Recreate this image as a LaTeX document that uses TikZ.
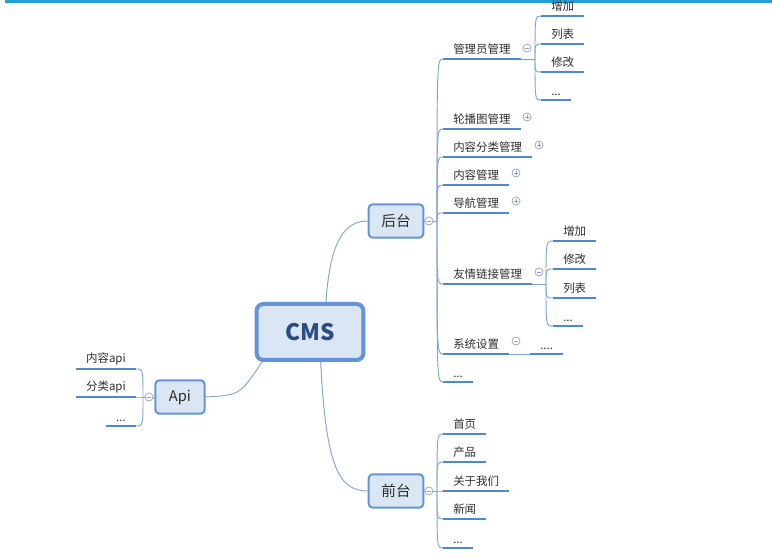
\documentclass[tikz,border=0pt]{standalone}
\usepackage{fontspec}
\setmainfont{Noto Sans CJK SC}
\usetikzlibrary{positioning}
\definecolor{topbar}{RGB}{35,158,215}
\definecolor{topicfill}{RGB}{219,230,244}
\definecolor{topicline}{RGB}{98,148,215}
\definecolor{cmstext}{RGB}{42,76,130}
\definecolor{ulblue}{RGB}{78,136,212}
\definecolor{brblue}{RGB}{128,164,214}
\definecolor{foldgray}{RGB}{140,160,190}
\definecolor{leaftext}{RGB}{45,45,45}

\begin{document}
\begin{tikzpicture}[x=0.75pt,y=-0.75pt,
  topic/.style={draw=topicline,line width=1.5pt,fill=topicfill,rounded corners=3pt,
    minimum width=41pt,minimum height=25pt,inner sep=0pt,
    font=\fontsize{11}{13}\selectfont,text=leaftext},
  central/.style={draw=topicline,line width=3pt,fill=topicfill,rounded corners=5pt,
    minimum width=80pt,minimum height=42pt,inner sep=0pt,
    font=\bfseries\fontsize{17}{20}\selectfont,text=cmstext},
  leaf/.style={inner xsep=7.5pt,inner ysep=3pt,anchor=south west,
    font=\fontsize{8.6}{10}\selectfont,text=leaftext},
  rleaf/.style={leaf,anchor=south east},
  uline/.style={draw=ulblue,line width=2.2pt},
  branch/.style={draw=brblue,line width=0.7pt},
  fold/.style={circle,draw=foldgray,fill=white,line width=0.5pt,minimum size=6pt,inner sep=0pt},
  minus/.style={fold,path picture={\draw[foldgray,line width=0.5pt]
    ([xshift=1.3pt]path picture bounding box.west) -- ([xshift=-1.3pt]path picture bounding box.east);}},
  plus/.style={fold,path picture={\draw[foldgray,line width=0.5pt]
    ([xshift=1.3pt]path picture bounding box.west) -- ([xshift=-1.3pt]path picture bounding box.east)
    ([yshift=-1.3pt]path picture bounding box.north) -- ([yshift=1.3pt]path picture bounding box.south);}}]
\useasboundingbox (0,0) rectangle (772,559);
\fill[topbar] (5,0) rectangle (772,3);

% main topics
\node[central] (cms) at (310,332) {CMS};
\node[topic] (houtai) at (396,221) {后台};
\node[topic] (qiantai) at (396,491) {前台};
\node[topic,minimum width=37pt] (api) at (180,397) {Api};

\draw[branch] ([xshift=12pt]cms.north) .. controls (330,240) and (345,221) .. (houtai.west);
\draw[branch] ([xshift=8pt]cms.south) .. controls (326,470) and (340,491) .. (qiantai.west);
\draw[branch] ([xshift=-36pt]cms.south) .. controls (240,395) .. (api.east);

% 后台
\coordinate (hb) at (437,221);
\node[leaf] (gly) at (443,59) {管理员管理};
\node[leaf] (lbt) at (443,129) {轮播图管理};
\node[leaf] (nrfl) at (443,157) {内容分类管理};
\node[leaf] (nr) at (443,185) {内容管理};
\node[leaf] (dh) at (443,213) {导航管理};
\node[leaf] (yq) at (443,284) {友情链接管理};
\node[leaf] (xt) at (443,354) {系统设置};
\node[leaf] (hmore) at (443,382) {...};
\draw[branch] (houtai.east) -- (hb);
\foreach \c in {gly,lbt,nrfl,nr,dh,yq,xt,hmore}{
  \draw[branch] (hb) .. controls (hb |- \c.south west) .. (\c.south west);
  \draw[uline] (\c.south west) -- (\c.south east);
}
\node[minus] at (429,221) {};

% 管理员管理
\coordinate (gb) at (535,59);
\node[leaf] (gzj) at (541,16) {增加};
\node[leaf] (glb) at (541,44) {列表};
\node[leaf] (gxg) at (541,72) {修改};
\node[leaf] (gmore) at (541,100) {...};
\draw[branch] (gly.south east) -- (gb);
\foreach \c in {gzj,glb,gxg,gmore}{
  \draw[branch] (gb) .. controls (gb |- \c.south west) .. (\c.south west);
  \draw[uline] (\c.south west) -- (\c.south east);
}
\node[minus] at (527,48) {};

\node[plus] at (527,117) {};
\node[plus] at (539,145) {};
\node[plus] at (516,173) {};
\node[plus] at (516,201) {};

% 友情链接管理
\coordinate (yb) at (546,284);
\node[leaf] (yzj) at (553,241) {增加};
\node[leaf] (yxg) at (553,269) {修改};
\node[leaf] (ylb) at (553,298) {列表};
\node[leaf] (ymore) at (553,326) {...};
\draw[branch] (yq.south east) -- (yb);
\foreach \c in {yzj,yxg,ylb,ymore}{
  \draw[branch] (yb) .. controls (yb |- \c.south west) .. (\c.south west);
  \draw[uline] (\c.south west) -- (\c.south east);
}
\node[minus] at (539,272) {};

% 系统设置
\node[leaf] (xmore) at (530,354) {....};
\draw[branch] (xt.south east) -- (xmore.south west);
\draw[uline] (xmore.south west) -- (xmore.south east);
\node[minus] at (516,341) {};

% 前台
\coordinate (qb) at (437,491);
\node[leaf] (sy) at (443,434) {首页};
\node[leaf] (cp) at (443,462) {产品};
\node[leaf] (gy) at (443,491) {关于我们};
\node[leaf] (xw) at (443,519) {新闻};
\node[leaf] (qmore) at (443,548) {...};
\draw[branch] (qiantai.east) -- (qb);
\foreach \c in {sy,cp,gy,xw,qmore}{
  \draw[branch] (qb) .. controls (qb |- \c.south west) .. (\c.south west);
  \draw[uline] (\c.south west) -- (\c.south east);
}
\node[minus] at (429,491) {};

% Api
\coordinate (ab) at (143,397);
\node[rleaf] (nrapi) at (136,369) {内容api};
\node[rleaf] (flapi) at (136,397) {分类api};
\node[rleaf] (amore) at (136,426) {...};
\draw[branch] (api.west) -- (ab);
\foreach \c in {nrapi,flapi,amore}{
  \draw[branch] (ab) .. controls (ab |- \c.south east) .. (\c.south east);
  \draw[uline] (\c.south west) -- (\c.south east);
}
\node[minus] at (149,397) {};
\end{tikzpicture}
\end{document}
